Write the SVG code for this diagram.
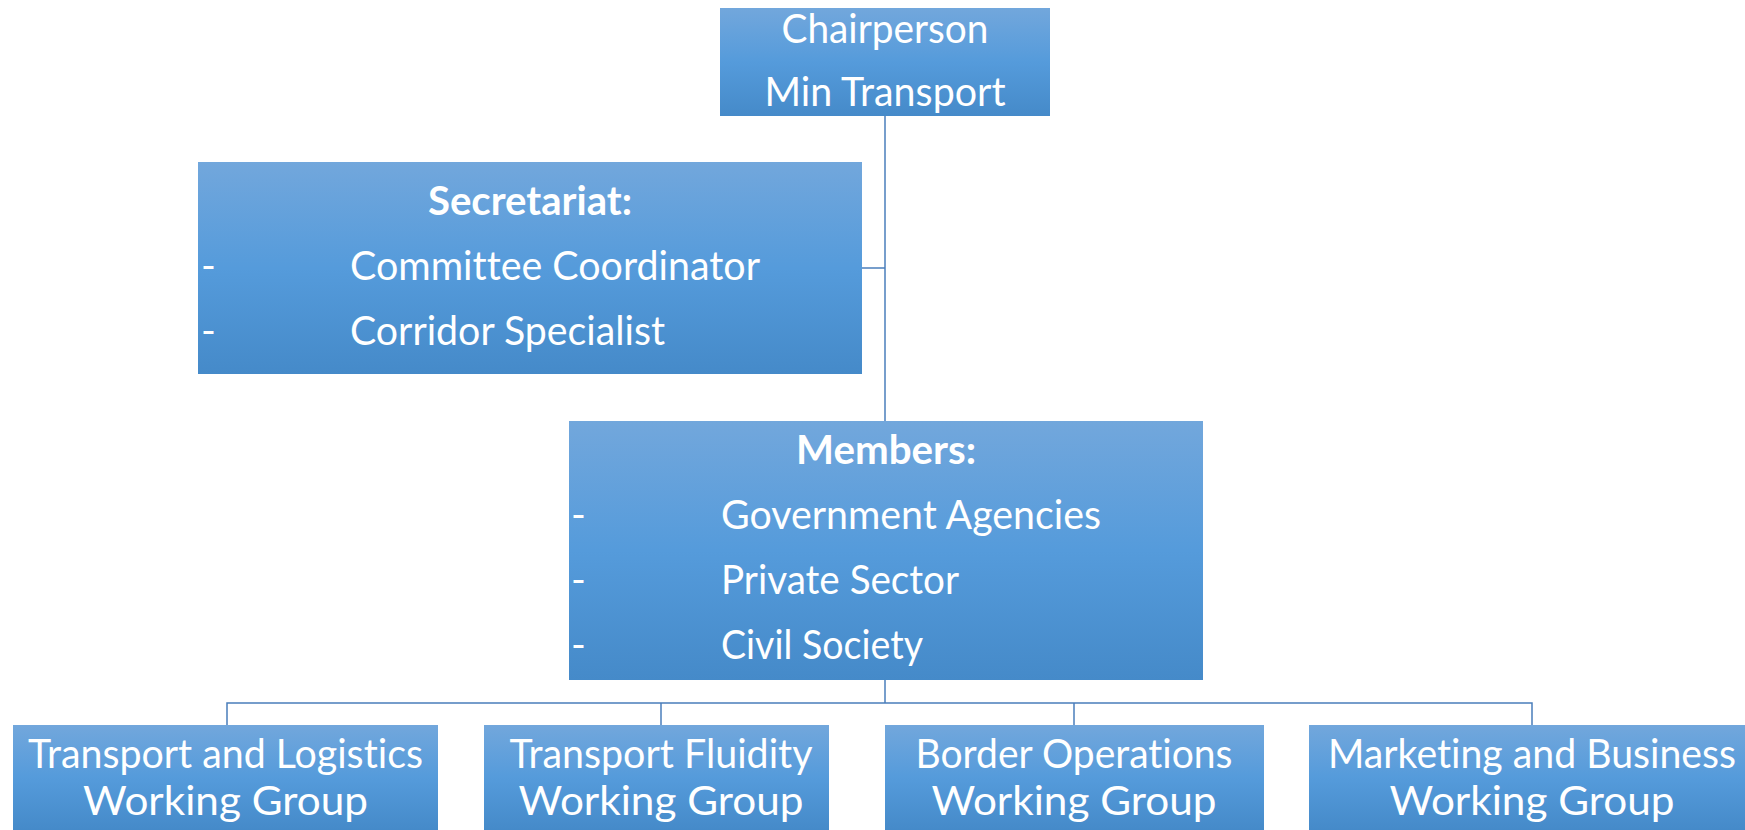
<svg xmlns="http://www.w3.org/2000/svg" width="1745" height="830" viewBox="0 0 1745 830">
<defs>
<linearGradient id="g" x1="0" y1="0" x2="0" y2="1">
<stop offset="0" stop-color="#72A7DC"/>
<stop offset="0.5" stop-color="#559BDB"/>
<stop offset="1" stop-color="#458AC9"/>
</linearGradient>
</defs>
<style>
.box{fill:url(#g);}
.t{font-family:Lato,"Liberation Sans",sans-serif;font-size:40px;fill:#ffffff;font-variant-ligatures:none;font-feature-settings:"liga" 0;}
.c{text-anchor:middle;}
.b{font-weight:bold;}
.ln{stroke:#4A7EBB;stroke-width:1.5;fill:none;}
</style>
<g id="connectors">
<path class="ln" d="M885 116 V421"/>
<path class="ln" d="M862 268 H885"/>
<path class="ln" d="M885 680 V703"/>
<path class="ln" d="M227 725 V703 H1532 V725"/>
<path class="ln" d="M661 703 V725"/>
<path class="ln" d="M1074 703 V725"/>
</g>
<g id="chair">
<rect class="box" x="720" y="8" width="330" height="108"/>
<text class="t c" x="885" y="43" textLength="207" lengthAdjust="spacingAndGlyphs">Chairperson</text>
<text class="t c" x="885" y="106" textLength="241" lengthAdjust="spacingAndGlyphs">Min Transport</text>
</g>
<g id="secretariat">
<rect class="box" x="198" y="162" width="664" height="212"/>
<text class="t c b" x="530" y="215" textLength="204" lengthAdjust="spacingAndGlyphs">Secretariat:</text>
<text class="t" x="201" y="280">-</text>
<text class="t" x="350" y="280" textLength="410" lengthAdjust="spacingAndGlyphs">Committee Coordinator</text>
<text class="t" x="201" y="345">-</text>
<text class="t" x="350" y="345" textLength="315" lengthAdjust="spacingAndGlyphs">Corridor Specialist</text>
</g>
<g id="members">
<rect class="box" x="569" y="421" width="634" height="259"/>
<text class="t c b" x="886" y="464" textLength="180" lengthAdjust="spacingAndGlyphs">Members:</text>
<text class="t" x="571" y="529">-</text>
<text class="t" x="721" y="529" textLength="380" lengthAdjust="spacingAndGlyphs">Government Agencies</text>
<text class="t" x="571" y="594">-</text>
<text class="t" x="721" y="594" textLength="238" lengthAdjust="spacingAndGlyphs">Private Sector</text>
<text class="t" x="571" y="659">-</text>
<text class="t" x="721" y="659" textLength="202" lengthAdjust="spacingAndGlyphs">Civil Society</text>
</g>
<g id="wg1">
<rect class="box" x="13" y="725" width="425" height="105"/>
<text class="t c" x="225.5" y="768" textLength="395" lengthAdjust="spacingAndGlyphs">Transport and Logistics</text>
<text class="t c" x="225.5" y="815" textLength="285" lengthAdjust="spacingAndGlyphs">Working Group</text>
</g>
<g id="wg2">
<rect class="box" x="484" y="725" width="345" height="105"/>
<text class="t c" x="661" y="768" textLength="303" lengthAdjust="spacingAndGlyphs">Transport Fluidity</text>
<text class="t c" x="661" y="815" textLength="285" lengthAdjust="spacingAndGlyphs">Working Group</text>
</g>
<g id="wg3">
<rect class="box" x="885" y="725" width="379" height="105"/>
<text class="t c" x="1074" y="768" textLength="317" lengthAdjust="spacingAndGlyphs">Border Operations</text>
<text class="t c" x="1074" y="815" textLength="285" lengthAdjust="spacingAndGlyphs">Working Group</text>
</g>
<g id="wg4">
<rect class="box" x="1309" y="725" width="436" height="105"/>
<text class="t c" x="1532" y="768" textLength="408" lengthAdjust="spacingAndGlyphs">Marketing and Business</text>
<text class="t c" x="1532" y="815" textLength="285" lengthAdjust="spacingAndGlyphs">Working Group</text>
</g>
</svg>
